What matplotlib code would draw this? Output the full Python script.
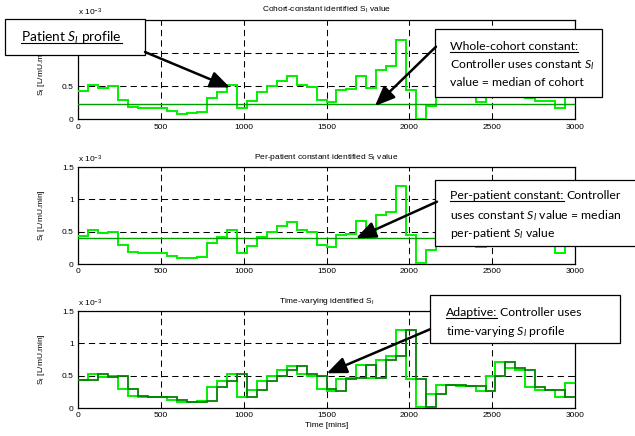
import numpy as np
import matplotlib
matplotlib.use("Agg")
import matplotlib.pyplot as plt
from matplotlib.patches import Rectangle, FancyArrowPatch
from matplotlib.lines import Line2D

# ---------------- data (S_I in units of 1e-3 L/mU.min) ----------------
time_edges = np.arange(0, 3001, 60)  # minutes, hourly identification

si_profile = [0.43, 0.52, 0.48, 0.50, 0.30, 0.19, 0.17, 0.17, 0.17, 0.13,
              0.09, 0.10, 0.11, 0.33, 0.41, 0.52, 0.17, 0.28, 0.42, 0.50,
              0.58, 0.65, 0.52, 0.49, 0.29, 0.26, 0.45, 0.46, 0.66, 0.47,
              0.75, 0.81, 1.20, 0.45, 0.01, 0.21, 0.36, 0.35, 0.34, 0.34,
              0.27, 0.50, 0.71, 0.62, 0.59, 0.33, 0.28, 0.28, 0.17, 0.39]

si_adaptive = [0.43, 0.43, 0.52, 0.48, 0.50, 0.30, 0.19, 0.17, 0.17, 0.17,
               0.13, 0.09, 0.10, 0.11, 0.33, 0.41, 0.52, 0.17, 0.28, 0.42,
               0.50, 0.58, 0.65, 0.52, 0.49, 0.29, 0.26, 0.45, 0.46, 0.66,
               0.47, 0.75, 0.81, 1.20, 0.45, 0.01, 0.21, 0.36, 0.35, 0.34,
               0.34, 0.27, 0.50, 0.71, 0.62, 0.59, 0.33, 0.28, 0.28, 0.17]

cohort_median = 0.23
patient_median = 0.40

x_ticks = [0, 500, 1000, 1500, 2000, 2500, 3000]
y_ticks = [0, 0.5, 1.0, 1.5]
y_ticklabels = ["0", "0.5", "1", "1.5"]
y_ticklabels_top = ["0", "0.5", "", ""]  # hidden behind the callout in the reference

titles = ["Cohort-constant identified S$_{\\mathrm{I}}$ value",
          "Per-patient constant identified S$_{\\mathrm{I}}$ value",
          "Time-varying identified S$_{\\mathrm{I}}$"]
ylabel = "S$_{\\mathrm{I}}$ [L/mU.min]"
xlabel = "Time [mins]"

# ---------------- style ----------------
plt.rcParams["font.family"] = ["Liberation Sans", "DejaVu Sans"]
plt.rcParams["mathtext.fontset"] = "custom"
plt.rcParams["mathtext.rm"] = "Liberation Sans"
plt.rcParams["mathtext.it"] = "Lato:italic"
plt.rcParams["mathtext.bf"] = "Liberation Sans:bold"

BRIGHT = "#00f000"
DARK = "#008200"
CONST = "#00a000"
CALLOUT_FONT = ["Lato", "DejaVu Sans"]

W, H = 635, 436
fig = plt.figure(figsize=(W / 100, H / 100), dpi=100)


def ax_at(l, t, r, b):
    return fig.add_axes([l / W, 1 - b / H, (r - l) / W, (b - t) / H])


panels = [(78, 20, 575, 119.5), (78, 167, 575, 264), (78, 311, 575, 408)]
axes = [ax_at(*p) for p in panels]

for i, ax in enumerate(axes):
    ax.set_xlim(0, 3000)
    ax.set_ylim(0, 1.5)
    ax.set_xticks(x_ticks)
    ax.set_yticks(y_ticks)
    ax.set_yticklabels(y_ticklabels_top if i == 0 else y_ticklabels)
    ax.tick_params(direction="in", top=True, right=True, length=3, width=0.7,
                   labelsize=6, pad=3)
    ax.grid(True, color="k", linestyle=(0, (6, 4)), linewidth=0.75)
    for s in ax.spines.values():
        s.set_linewidth(0.9)
    ax.set_title(titles[i], fontsize=6, pad=6)
    ax.set_ylabel(ylabel, fontsize=6)
    ax.yaxis.set_label_coords(-0.062, 0.5)
    ax.text(0.0, 1.02, "x 10$^{-3}$", transform=ax.transAxes, fontsize=6,
            ha="left", va="bottom")

axes[0].stairs(si_profile, time_edges, baseline=None, color=BRIGHT, lw=1.4, zorder=3)
axes[0].axhline(cohort_median, color=CONST, lw=1.0, zorder=3)

axes[1].stairs(si_profile, time_edges, baseline=None, color=BRIGHT, lw=1.4, zorder=3)
axes[1].axhline(patient_median, color=CONST, lw=1.0, zorder=3)

axes[2].stairs(si_profile, time_edges, baseline=None, color=BRIGHT, lw=1.4, zorder=3)
axes[2].stairs(si_adaptive, time_edges, baseline=None, color=DARK, lw=1.3, zorder=4)
axes[2].set_xlabel(xlabel, fontsize=6, labelpad=2)

# ---------------- callouts ----------------
fig.canvas.draw()
renderer = fig.canvas.get_renderer()


def fx(px):
    return px / W


def fy(py):
    return 1 - py / H


def box(l, t, r, b):
    fig.add_artist(Rectangle((fx(l), fy(b)), fx(r) - fx(l), (b - t) / H,
                             transform=fig.transFigure, facecolor="white",
                             edgecolor="black", lw=0.9, zorder=10))


def arrow(x0, y0, x1, y1):
    fig.add_artist(FancyArrowPatch((fx(x0), fy(y0)), (fx(x1), fy(y1)),
                                   transform=fig.transFigure,
                                   arrowstyle="-|>,head_length=12,head_width=5",
                                   mutation_scale=1, lw=1.8, color="black",
                                   shrinkA=0, shrinkB=0, zorder=11))


def write_line(x, base, parts, size):
    sp = None
    xcur = x
    for s, ul in parts:
        t = fig.text(fx(xcur), fy(base), s, fontsize=size, family=CALLOUT_FONT,
                     ha="left", va="baseline", zorder=12)
        bb = t.get_window_extent(renderer)
        if ul:
            fig.add_artist(Line2D([fx(bb.x0), fx(bb.x1)], [fy(base + 1.8)] * 2,
                                  transform=fig.transFigure, color="black",
                                  lw=0.8, zorder=12))
        if sp is None:
            a = fig.text(0, 0, "x x", fontsize=size, family=CALLOUT_FONT)
            b = fig.text(0, 0, "xx", fontsize=size, family=CALLOUT_FONT)
            sp = a.get_window_extent(renderer).width - b.get_window_extent(renderer).width
            a.remove()
            b.remove()
        xcur += bb.width + sp


FS_BIG = 9.9
FS = 8.8

# box 1
box(5, 19, 145, 55)
write_line(21, 41.7, [("Patient $S_I$ profile", True)], FS_BIG)
arrow(145, 52, 230, 87.5)

# box 2
box(435, 29, 602, 97)
write_line(450, 50, [("Whole-cohort constant:", True)], FS)
write_line(450, 68, [("Controller uses constant $S_I$", False)], FS)
write_line(450, 86.5, [("value = median of cohort", False)], FS)
arrow(436, 46.7, 375, 106)

# box 3
box(435, 180, 636, 246)
write_line(450, 199.3, [("Per-patient constant:", True), ("Controller", False)], FS)
write_line(450, 219, [("uses constant $S_I$ value = median", False)], FS)
write_line(450, 237, [("per-patient $S_I$ value", False)], FS)
arrow(437, 201.7, 356, 238.3)

# box 4
box(430, 295, 620, 343)
write_line(445.6, 316, [("Adaptive:", True), ("Controller uses", False)], FS)
write_line(445.6, 335, [("time-varying $S_I$ profile", False)], FS)
arrow(430, 329.3, 326.7, 373.3)

fig.savefig("out.png", dpi=100)
